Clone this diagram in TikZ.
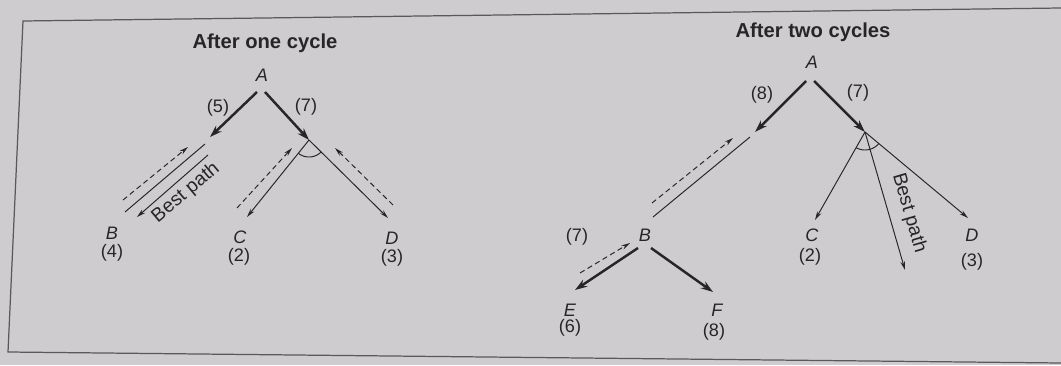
\documentclass[tikz,border=0pt]{standalone}
\usepackage{fontspec}
\setmainfont{Liberation Sans}
\usetikzlibrary{arrows.meta}
\definecolor{ink}{RGB}{38,38,40}
\definecolor{paper}{RGB}{206,204,206}
\definecolor{framec}{RGB}{90,88,90}
\begin{document}
\begin{tikzpicture}[x=0.02cm,y=-0.02cm,
  lbl/.style={font=\fontsize{10.3}{12}\selectfont, text=ink, inner sep=0pt},
  nm/.style={font=\fontsize{10.3}{12}\selectfont\itshape, text=ink, inner sep=0pt},
  ttl/.style={font=\fontsize{11.5}{13}\selectfont\bfseries, text=ink, inner sep=0pt},
  bp/.style={font=\fontsize{11}{12}\selectfont, text=ink, inner sep=0pt},
  thickarr/.style={draw=ink, line width=1.4pt, -{Stealth[length=7pt,width=4.6pt]}},
  thinarr/.style={draw=ink, line width=0.55pt, -{Stealth[length=5pt,width=2.6pt]}},
  thinline/.style={draw=ink, line width=0.55pt},
  dasharr/.style={draw=ink, line width=0.55pt, dash pattern=on 3pt off 2pt, -{Stealth[length=5pt,width=2.6pt]}},
  andarc/.style={draw=ink, line width=0.55pt},
  framel/.style={draw=framec, line width=0.7pt}
]
\useasboundingbox (0,0) rectangle (1061,365);
\fill[paper] (0,0) rectangle (1061,365);
\draw[framel] (1061,8) -- (23,21) -- (8,352) -- (1061,363);

% ---------------- Left tree: after one cycle ----------------
\node[ttl] (t1) at (265,43) {After one cycle};
\node[nm] (A1) at (262,75) {A};
\coordinate (a1l) at (257,92);
\coordinate (a1r) at (265,92);
\coordinate (b1top) at (210,137);
\coordinate (v1) at (309,140);
\node[lbl] (w5) at (218,108) {(5)};
\node[lbl] (w7a) at (306,107) {(7)};
\draw[thickarr] (a1l) -- (b1top);
\draw[thickarr] (a1r) -- (v1);

% B branch
\coordinate (bl1s) at (205,144);
\coordinate (bl1e) at (125,212);
\coordinate (bl2s) at (208,155);
\coordinate (bl2e) at (137,217);
\coordinate (bd1s) at (123,200);
\coordinate (bd1e) at (188,147);
\draw[thinline] (bl1s) -- (bl1e);
\draw[thinarr] (bl2s) -- (bl2e);
\draw[dasharr] (bd1s) -- (bd1e);
\node[bp, rotate=40] (bp1) at (186,193) {Best path};

% C and D branches
\coordinate (c1e) at (247,217);
\coordinate (d1e) at (388,218);
\coordinate (cd1s) at (237,208);
\coordinate (cd1e) at (292,148);
\coordinate (dd1s) at (393,205);
\coordinate (dd1e) at (335,148);
\draw[thinarr] (v1) -- (c1e);
\draw[thinarr] (v1) -- (d1e);
\draw[dasharr] (cd1s) -- (cd1e);
\draw[dasharr] (dd1s) -- (dd1e);
\draw[andarc] plot[domain=44:130, samples=30, smooth] ({309+17*cos(\x)},{140+17*sin(\x)});

\node[nm] (B1) at (112,233) {B};
\node[lbl] (B1v) at (112,253) {(4)};
\node[nm] (C1) at (240,237) {C};
\node[lbl] (C1v) at (239,257) {(2)};
\node[nm] (D1) at (392,238) {D};
\node[lbl] (D1v) at (392,258) {(3)};

% ---------------- Right tree: after two cycles ----------------
\node[ttl] (t2) at (813,32) {After two cycles};
\node[nm] (A2) at (812,62) {A};
\coordinate (a2l) at (806,81);
\coordinate (a2r) at (814,81);
\coordinate (b2top) at (755,132);
\coordinate (v2) at (865,132);
\node[lbl] (w8) at (762,95) {(8)};
\node[lbl] (w7b) at (858,93) {(7)};
\draw[thickarr] (a2l) -- (b2top);
\draw[thickarr] (a2r) -- (v2);

% A-B long branch
\coordinate (ab2s) at (750,137);
\coordinate (ab2e) at (653,217);
\coordinate (abd2s) at (652,203);
\coordinate (abd2e) at (733,138);
\draw[thinline] (ab2s) -- (ab2e);
\draw[dasharr] (abd2s) -- (abd2e);

\node[nm] (B2) at (645,235) {B};
\node[lbl] (B2v) at (577,237) {(7)};

% B -> E, F
\coordinate (be2s) at (638,248);
\coordinate (be2e) at (575,290);
\coordinate (bf2s) at (651,248);
\coordinate (bf2e) at (713,292);
\coordinate (bed2s) at (580,273);
\coordinate (bed2e) at (630,243);
\draw[thickarr] (be2s) -- (be2e);
\draw[thickarr] (bf2s) -- (bf2e);
\draw[dasharr] (bed2s) -- (bed2e);

\node[nm] (E2) at (570,310) {E};
\node[lbl] (E2v) at (570,328) {(6)};
\node[nm] (F2) at (717,310) {F};
\node[lbl] (F2v) at (714,332) {(8)};

% C, best, D from v2
\coordinate (c2e) at (815,220);
\coordinate (m2e) at (905,270);
\coordinate (d2e) at (968,218);
\draw[thinarr] (v2) -- (c2e);
\draw[thinarr] (v2) -- (m2e);
\draw[thinarr] (v2) -- (d2e);
\draw[andarc] plot[domain=39.5:120, samples=30, smooth] ({865+18*cos(\x)},{132+18*sin(\x)});
\node[bp, rotate=-73.7] (bp2) at (909,213) {Best path};

\node[nm] (C2) at (812,235) {C};
\node[lbl] (C2v) at (810,257) {(2)};
\node[nm] (D2) at (972,235) {D};
\node[lbl] (D2v) at (972,262) {(3)};
\end{tikzpicture}
\end{document}
